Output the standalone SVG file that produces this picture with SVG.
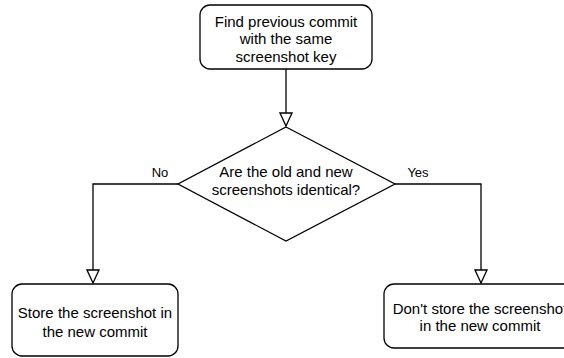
<svg xmlns="http://www.w3.org/2000/svg" width="564" height="358" viewBox="0 0 564 358">
<style>
.n{fill:#fff;stroke:#000;stroke-width:1.3}
.t{font-family:"Liberation Sans",Arial,sans-serif;font-size:15px;fill:#000;text-anchor:middle}
.l{font-family:"Liberation Sans",Arial,sans-serif;font-size:13px;fill:#000;text-anchor:middle}
.c{fill:none;stroke:#000;stroke-width:1.3}
</style>
<defs>
<marker id="a" markerUnits="userSpaceOnUse" markerWidth="16" markerHeight="14" refX="14" refY="7" orient="auto" viewBox="0 0 16 14">
<path d="M1,1 L14,7 L1,13 Z" fill="#fff" stroke="#000" stroke-width="1.3"/>
</marker>
</defs>
<rect width="564" height="358" fill="#fff"/>
<g id="connectors">
<path class="c" d="M286,69 V126" marker-end="url(#a)"/>
<path class="c" d="M178,184 H93 V283" marker-end="url(#a)"/>
<path class="c" d="M395,184 H481 V283" marker-end="url(#a)"/>
<text class="l" x="160" y="177">No</text>
<text class="l" x="418" y="177">Yes</text>
</g>
<g id="find">
<rect class="n" x="200" y="5" width="172" height="64" rx="10"/>
<text class="t" x="286" y="27">Find previous commit</text>
<text class="t" x="286" y="44">with the same</text>
<text class="t" x="286" y="62">screenshot key</text>
</g>
<g id="decision">
<path class="n" d="M286,127 L395,184 L286,241 L178,184 Z"/>
<text class="t" x="286" y="177">Are the old and new</text>
<text class="t" x="286" y="195">screenshots identical?</text>
</g>
<g id="store">
<rect class="n" x="12" y="284" width="166" height="72" rx="10"/>
<text class="t" x="95" y="318">Store the screenshot in</text>
<text class="t" x="95" y="337">the new commit</text>
</g>
<g id="dontstore">
<rect class="n" x="384" y="284" width="192" height="64" rx="10"/>
<text class="t" x="480" y="314">Don't store the screenshot</text>
<text class="t" x="480" y="331">in the new commit</text>
</g>
</svg>
